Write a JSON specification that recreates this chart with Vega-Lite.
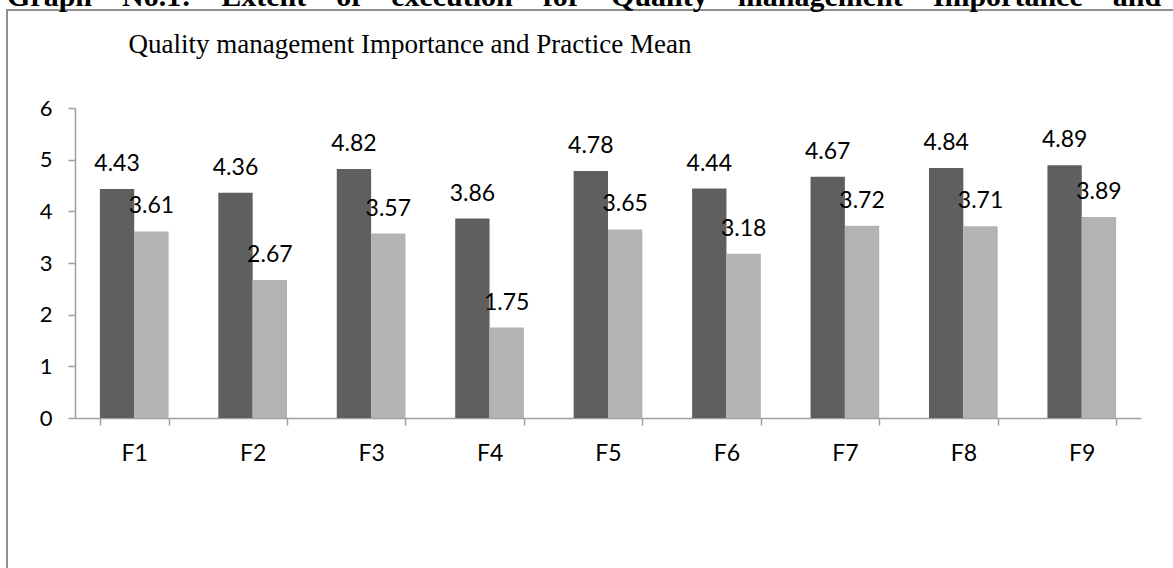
{
  "$schema": "https://vega.github.io/schema/vega-lite/v6.json",
  "autosize": "none",
  "width": 1180,
  "height": 570,
  "padding": {"left": 7, "top": 10, "right": 0, "bottom": 0},
  "background": "white",
  "title": {
    "text": "Graph\u00a0\u00a0\u00a0\u00a0No.1:\u00a0\u00a0\u00a0\u00a0Extent\u00a0\u00a0\u00a0\u00a0of\u00a0\u00a0\u00a0\u00a0execution\u00a0\u00a0\u00a0\u00a0for\u00a0\u00a0\u00a0\u00a0Quality\u00a0\u00a0\u00a0\u00a0management\u00a0\u00a0\u00a0\u00a0Importance\u00a0\u00a0\u00a0\u00a0and",
    "anchor": "start",
    "frame": "group",
    "orient": "top",
    "font": "Liberation Serif",
    "fontSize": 30,
    "fontWeight": "bold",
    "color": "black",
    "baseline": "alphabetic",
    "offset": -26
  },
  "config": {
    "view": {"stroke": "#909090", "strokeWidth": 2},
    "axis": {"grid": false}
  },
  "data": {
    "values": [
      {"factor": "F1", "series": "Importance", "value": 4.43},
      {"factor": "F1", "series": "Practice", "value": 3.61},
      {"factor": "F2", "series": "Importance", "value": 4.36},
      {"factor": "F2", "series": "Practice", "value": 2.67},
      {"factor": "F3", "series": "Importance", "value": 4.82},
      {"factor": "F3", "series": "Practice", "value": 3.57},
      {"factor": "F4", "series": "Importance", "value": 3.86},
      {"factor": "F4", "series": "Practice", "value": 1.75},
      {"factor": "F5", "series": "Importance", "value": 4.78},
      {"factor": "F5", "series": "Practice", "value": 3.65},
      {"factor": "F6", "series": "Importance", "value": 4.44},
      {"factor": "F6", "series": "Practice", "value": 3.18},
      {"factor": "F7", "series": "Importance", "value": 4.67},
      {"factor": "F7", "series": "Practice", "value": 3.72},
      {"factor": "F8", "series": "Importance", "value": 4.84},
      {"factor": "F8", "series": "Practice", "value": 3.71},
      {"factor": "F9", "series": "Importance", "value": 4.89},
      {"factor": "F9", "series": "Practice", "value": 3.89}
    ]
  },
  "encoding": {
    "x": {
      "field": "factor",
      "type": "nominal",
      "sort": null,
      "scale": {"range": [68, 1134], "paddingInner": 0.42, "paddingOuter": 0.21},
      "axis": {
        "orient": "bottom",
        "offset": -162,
        "title": null,
        "tickBand": "extent",
        "tickSize": 7,
        "tickColor": "#a0a0a0",
        "tickWidth": 1.5,
        "domainColor": "#a0a0a0",
        "domainWidth": 1.5,
        "labelAngle": 0,
        "labelFont": "Lato",
        "labelFontSize": 23,
        "labelColor": "black",
        "labelPadding": 17
      }
    },
    "xOffset": {
      "field": "series",
      "type": "nominal",
      "sort": ["Importance", "Practice"],
      "scale": {"paddingInner": 0, "paddingOuter": 0}
    },
    "y": {
      "field": "value",
      "type": "quantitative",
      "scale": {"domain": [0, 6], "range": [408, 98], "nice": false, "zero": true},
      "axis": {
        "orient": "left",
        "offset": -68,
        "values": [0, 1, 2, 3, 4, 5, 6],
        "tickSize": 7,
        "tickColor": "#a0a0a0",
        "tickWidth": 1.5,
        "domainColor": "#a0a0a0",
        "domainWidth": 1.5,
        "labelFont": "Lato",
        "labelFontSize": 22,
        "labelColor": "black",
        "labelPadding": 16,
        "title": "Quality management Importance and Practice Mean",
        "titleAngle": 0,
        "titleX": 53,
        "titleY": 42,
        "titleAlign": "left",
        "titleBaseline": "alphabetic",
        "titleFont": "Liberation Serif",
        "titleFontSize": 27,
        "titleFontWeight": "normal",
        "titleColor": "black"
      }
    }
  },
  "layer": [
    {
      "mark": {"type": "bar"},
      "encoding": {
        "color": {
          "field": "series",
          "type": "nominal",
          "scale": {"domain": ["Importance", "Practice"], "range": ["#5f5f5f", "#b3b3b3"]},
          "legend": null
        }
      }
    },
    {
      "mark": {"type": "text", "font": "Lato", "fontSize": 23, "baseline": "alphabetic", "dy": -18, "color": "black"},
      "encoding": {
        "text": {"field": "value", "type": "quantitative", "format": ".2f"}
      }
    }
  ]
}
